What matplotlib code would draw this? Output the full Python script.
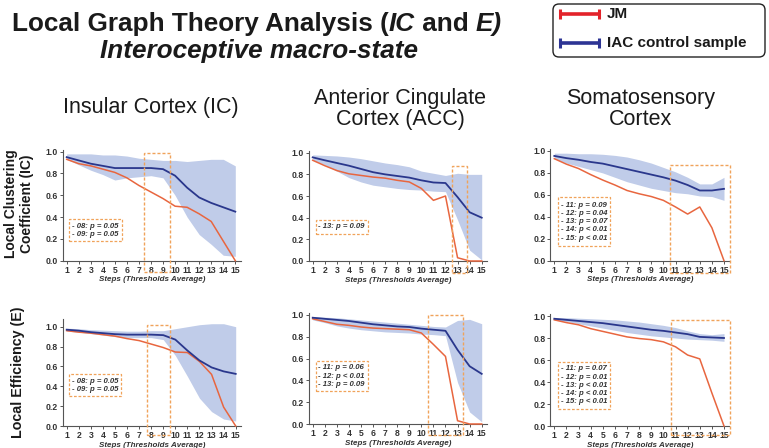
import matplotlib
matplotlib.use("Agg")
import matplotlib.pyplot as plt
from matplotlib.patches import Rectangle, FancyBboxPatch

plt.rcParams['font.family'] = ['Liberation Sans', 'DejaVu Sans']

# ---------------- data ----------------
steps = list(range(1, 16))

# Local clustering coefficient
ic_cl_ctrl = [0.95, 0.92, 0.89, 0.87, 0.85, 0.85, 0.85, 0.85, 0.84, 0.78, 0.67, 0.58, 0.53, 0.49, 0.45]
ic_cl_jm   = [0.93, 0.89, 0.87, 0.84, 0.81, 0.76, 0.69, 0.63, 0.57, 0.50, 0.49, 0.43, 0.36, 0.18, 0.00]
ic_cl_lo   = [0.93, 0.88, 0.83, 0.79, 0.74, 0.76, 0.77, 0.78, 0.76, 0.60, 0.40, 0.24, 0.15, 0.05, 0.04]
ic_cl_hi   = [0.98, 0.98, 0.98, 0.97, 0.97, 0.96, 0.94, 0.93, 0.92, 0.92, 0.91, 0.92, 0.93, 0.93, 0.87]

acc_cl_ctrl = [0.957, 0.93, 0.905, 0.88, 0.85, 0.82, 0.80, 0.785, 0.77, 0.745, 0.725, 0.72, 0.59, 0.45, 0.40]
acc_cl_jm   = [0.93, 0.88, 0.835, 0.805, 0.79, 0.775, 0.765, 0.745, 0.73, 0.67, 0.56, 0.60, 0.03, 0.00, 0.00]
acc_cl_lo   = [0.93, 0.89, 0.83, 0.77, 0.73, 0.70, 0.685, 0.67, 0.66, 0.655, 0.645, 0.64, 0.38, 0.10, 0.01]
acc_cl_hi   = [0.98, 0.975, 0.97, 0.96, 0.945, 0.925, 0.905, 0.89, 0.87, 0.83, 0.81, 0.79, 0.81, 0.80, 0.80]

ss_cl_ctrl = [0.955, 0.935, 0.92, 0.90, 0.885, 0.86, 0.835, 0.81, 0.785, 0.76, 0.73, 0.69, 0.64, 0.64, 0.655]
ss_cl_jm   = [0.93, 0.88, 0.84, 0.785, 0.735, 0.69, 0.64, 0.61, 0.585, 0.55, 0.49, 0.425, 0.49, 0.30, 0.00]
ss_cl_lo   = [0.93, 0.89, 0.86, 0.83, 0.80, 0.76, 0.72, 0.69, 0.66, 0.64, 0.62, 0.61, 0.59, 0.585, 0.55]
ss_cl_hi   = [0.98, 0.98, 0.975, 0.975, 0.97, 0.96, 0.945, 0.92, 0.89, 0.85, 0.81, 0.76, 0.70, 0.70, 0.76]

# Local efficiency
ic_ef_ctrl = [0.97, 0.96, 0.945, 0.935, 0.925, 0.92, 0.92, 0.92, 0.915, 0.87, 0.76, 0.66, 0.59, 0.55, 0.525]
ic_ef_jm   = [0.96, 0.945, 0.935, 0.92, 0.905, 0.88, 0.86, 0.825, 0.79, 0.745, 0.74, 0.65, 0.52, 0.19, 0.00]
ic_ef_lo   = [0.955, 0.945, 0.93, 0.915, 0.90, 0.89, 0.89, 0.89, 0.87, 0.71, 0.50, 0.28, 0.145, 0.07, 0.05]
ic_ef_hi   = [0.985, 0.98, 0.97, 0.965, 0.96, 0.955, 0.955, 0.96, 0.96, 0.98, 1.00, 1.02, 1.03, 1.03, 1.00]

acc_ef_ctrl = [0.975, 0.965, 0.955, 0.945, 0.93, 0.915, 0.905, 0.895, 0.89, 0.875, 0.865, 0.855, 0.68, 0.53, 0.46]
acc_ef_jm   = [0.965, 0.94, 0.915, 0.905, 0.89, 0.88, 0.875, 0.87, 0.865, 0.835, 0.73, 0.62, 0.03, 0.00, 0.00]
acc_ef_lo   = [0.955, 0.93, 0.90, 0.88, 0.865, 0.855, 0.845, 0.84, 0.835, 0.825, 0.82, 0.81, 0.38, 0.11, 0.02]
acc_ef_hi   = [0.985, 0.98, 0.975, 0.965, 0.955, 0.945, 0.935, 0.925, 0.915, 0.905, 0.895, 0.89, 0.95, 0.96, 0.92]

ss_ef_ctrl = [0.975, 0.965, 0.955, 0.945, 0.935, 0.92, 0.905, 0.89, 0.875, 0.865, 0.85, 0.835, 0.81, 0.805, 0.80]
ss_ef_jm   = [0.965, 0.94, 0.92, 0.885, 0.86, 0.835, 0.81, 0.795, 0.785, 0.765, 0.72, 0.645, 0.61, 0.30, 0.00]
ss_ef_lo   = [0.965, 0.95, 0.93, 0.91, 0.89, 0.87, 0.85, 0.835, 0.82, 0.81, 0.80, 0.79, 0.785, 0.78, 0.77]
ss_ef_hi   = [0.985, 0.985, 0.98, 0.975, 0.97, 0.965, 0.955, 0.945, 0.93, 0.915, 0.895, 0.865, 0.84, 0.83, 0.84]

stats_ic_cl = ["- 08: p = 0.05", "- 09: p = 0.05"]
stats_acc_cl = ["- 13: p = 0.09"]
stats_ss_cl = ["- 11: p = 0.09", "- 12: p = 0.04", "- 13: p = 0.07", "- 14: p < 0.01", "- 15: p < 0.01"]
stats_ic_ef = ["- 08: p = 0.05", "- 09: p = 0.05"]
stats_acc_ef = ["- 11: p = 0.06", "- 12: p < 0.01", "- 13: p = 0.09"]
stats_ss_ef = ["- 11: p = 0.07", "- 12: p = 0.01", "- 13: p < 0.01", "- 14: p < 0.01", "- 15: p < 0.01"]

yticks = [0.0, 0.2, 0.4, 0.6, 0.8, 1.0]
ytick_labels = ["0.0", "0.2", "0.4", "0.6", "0.8", "1.0"]

title_parts = [("Local Graph Theory Analysis (", 'normal'), ("IC", 'italic'),
               (" and ", 'normal'), ("E)", 'italic')]
subtitle = "Interoceptive macro-state"
column_titles = ["Insular Cortex (IC)", "Anterior Cingulate\nCortex (ACC)", "Somatosensory\nCortex"]
row_labels = ["Local Clustering\nCoefficient (IC)", "Local Efficiency (E)"]
legend_labels = ["JM", "IAC control sample"]

# ---------------- style ----------------
W, H = 769, 448
C_CTRL = "#2a378c"
C_JM = "#e8663f"
C_BAND = "#c0cce9"
C_BOX = "#f0a35a"
C_TXT = "#333333"
C_DARK = "#1a1a1a"
XL, XR = 0.68, 15.45

fig = plt.figure(figsize=(W / 100, H / 100), dpi=100)

# pixel anchors: x of step1, x of step15, y of value0, y of value1, ylim top
panels = [
    dict(a=(66.7, 235.3, 260.7, 151.7, 1.02), ctrl=ic_cl_ctrl, jm=ic_cl_jm, lo=ic_cl_lo, hi=ic_cl_hi,
         box=(7.45, 9.55, -0.10, 0.985), tb=(1.2, 5.6, 0.18, 0.38), stats=stats_ic_cl),
    dict(a=(312.7, 481.7, 261.0, 152.7, 1.02), ctrl=acc_cl_ctrl, jm=acc_cl_jm, lo=acc_cl_lo, hi=acc_cl_hi,
         box=(12.57, 13.79, -0.11, 0.877), tb=(1.28, 5.6, 0.25, 0.38), stats=stats_acc_cl),
    dict(a=(554.3, 724.0, 260.7, 151.0, 1.02), ctrl=ss_cl_ctrl, jm=ss_cl_jm, lo=ss_cl_lo, hi=ss_cl_hi,
         box=(10.56, 15.48, -0.11, 0.872), tb=(1.33, 5.59, 0.134, 0.578), stats=stats_ss_cl),
    dict(a=(66.7, 235.7, 426.0, 326.7, 1.08), ctrl=ic_ef_ctrl, jm=ic_ef_jm, lo=ic_ef_lo, hi=ic_ef_hi,
         box=(7.63, 9.56, -0.09, 1.02), tb=(1.22, 5.48, 0.30, 0.52), stats=stats_ic_ef),
    dict(a=(312.7, 481.7, 424.0, 315.0, 1.02), ctrl=acc_ef_ctrl, jm=acc_ef_jm, lo=acc_ef_lo, hi=acc_ef_hi,
         box=(10.59, 13.49, -0.10, 1.0), tb=(1.28, 5.56, 0.30, 0.58), stats=stats_acc_ef),
    dict(a=(554.3, 724.0, 426.0, 316.0, 1.02), ctrl=ss_ef_ctrl, jm=ss_ef_jm, lo=ss_ef_lo, hi=ss_ef_hi,
         box=(10.59, 15.5, -0.08, 0.96), tb=(1.33, 5.59, 0.155, 0.585), stats=stats_ss_ef),
]

for p in panels:
    x1, x15, y0, y1, ytop = p['a']
    ppx = (x15 - x1) / 14.0
    lpx = x1 - (1 - XL) * ppx
    rpx = x15 + (XR - 15) * ppx
    ppy = y0 - y1
    tpx = y0 - ytop * ppy
    ax = fig.add_axes([lpx / W, 1 - y0 / H, (rpx - lpx) / W, (y0 - tpx) / H])
    ax.set_xlim(XL, XR)
    ax.set_ylim(0, ytop)
    ax.fill_between(steps, p['lo'], p['hi'], color=C_BAND, lw=0, zorder=1)
    ax.plot(steps, p['jm'], color=C_JM, lw=1.1, zorder=3, clip_on=False)
    ax.plot(steps, p['ctrl'], color=C_CTRL, lw=1.3, zorder=4, clip_on=False)
    for s in ['top', 'right']:
        ax.spines[s].set_visible(False)
    for s in ['left', 'bottom']:
        ax.spines[s].set_color('#555555')
        ax.spines[s].set_linewidth(0.8)
    ax.set_xticks(steps)
    ax.set_xticklabels([str(s) for s in steps])
    ax.set_yticks(yticks)
    ax.set_yticklabels(ytick_labels)
    ax.tick_params(axis='both', length=2, width=0.7, color='#555555', pad=1.5,
                   labelsize=6.2, labelcolor=C_TXT)
    for lab in ax.get_xticklabels() + ax.get_yticklabels():
        lab.set_fontweight('bold')
    ax.set_xlabel("Steps (Thresholds Average)", fontsize=5.8, fontweight='bold',
                  fontstyle='italic', color=C_TXT, labelpad=1.2)
    bx0, bx1, by0, by1 = p['box']
    ax.add_patch(Rectangle((bx0, by0), bx1 - bx0, by1 - by0, fill=False, ec=C_BOX,
                           lw=1.0, ls=(0, (2.2, 1.4)), clip_on=False, zorder=5))
    tx0, tx1, ty0, ty1 = p['tb']
    ax.add_patch(Rectangle((tx0, ty0), tx1 - tx0, ty1 - ty0, fill=False, ec=C_BOX,
                           lw=0.9, ls=(0, (2.2, 1.4)), clip_on=False, zorder=5))
    ax.text(tx0 + 0.2, (ty0 + ty1) / 2, "\n".join(p['stats']), fontsize=5.6,
            fontweight='bold', fontstyle='italic', color=C_TXT, va='center', ha='left',
            linespacing=1.25, zorder=6)

# ---- Title built from pieces (regular-bold + italic-bold)
renderer = fig.canvas.get_renderer()
TSIZE = 18.8
pieces = []
for txt, style in title_parts:
    t = fig.text(0, 1 - 24 / H, txt, fontsize=TSIZE, fontweight='bold', fontstyle=style,
                 ha='left', va='center', color=C_DARK)
    pieces.append(t)
widths = [t.get_window_extent(renderer).width for t in pieces]
total = sum(widths)
x = 257 - total / 2
for t, w in zip(pieces, widths):
    t.set_x(x / W)
    x += w

fig.text(259 / W, 1 - 51 / H, subtitle, fontsize=TSIZE, fontweight='bold',
         fontstyle='italic', ha='center', va='center', color=C_DARK)

col_x = [151, 400, 641]
col_y = [108, 109, 109]
for cx, cy, t in zip(col_x, col_y, column_titles):
    fig.text(cx / W, 1 - cy / H, t, fontsize=15.5, ha='center', va='center',
             color=C_DARK, linespacing=1.05)

fig.text(19 / W, 1 - 204 / H, row_labels[0], fontsize=10, fontweight='bold', rotation=90,
         ha='center', va='center', color=C_DARK, linespacing=1.15)
fig.text(18 / W, 1 - 372 / H, row_labels[1], fontsize=10.3, fontweight='bold', rotation=90,
         ha='center', va='center', color=C_DARK)

# ---- Legend
lax = fig.add_axes([0, 0, 1, 1], zorder=10)
lax.set_xlim(0, W)
lax.set_ylim(H, 0)
lax.axis('off')
lax.add_patch(FancyBboxPatch((553, 4), 212, 53, boxstyle="round,pad=0,rounding_size=6",
                             fc='white', ec='#222222', lw=1.0))
for yy, col, lab in [(14.5, "#e3232a", legend_labels[0]), (43.5, "#2d3494", legend_labels[1])]:
    lax.plot([560, 599], [yy, yy], color=col, lw=2.6, solid_capstyle='butt')
    lax.plot([560, 599], [yy, yy], ls='none', marker='|', ms=7, mew=2.2, color=col)
    lax.text(607, yy, lab, fontsize=11, fontweight='bold', va='center', ha='left', color=C_DARK)

fig.savefig("out.png", dpi=100)
